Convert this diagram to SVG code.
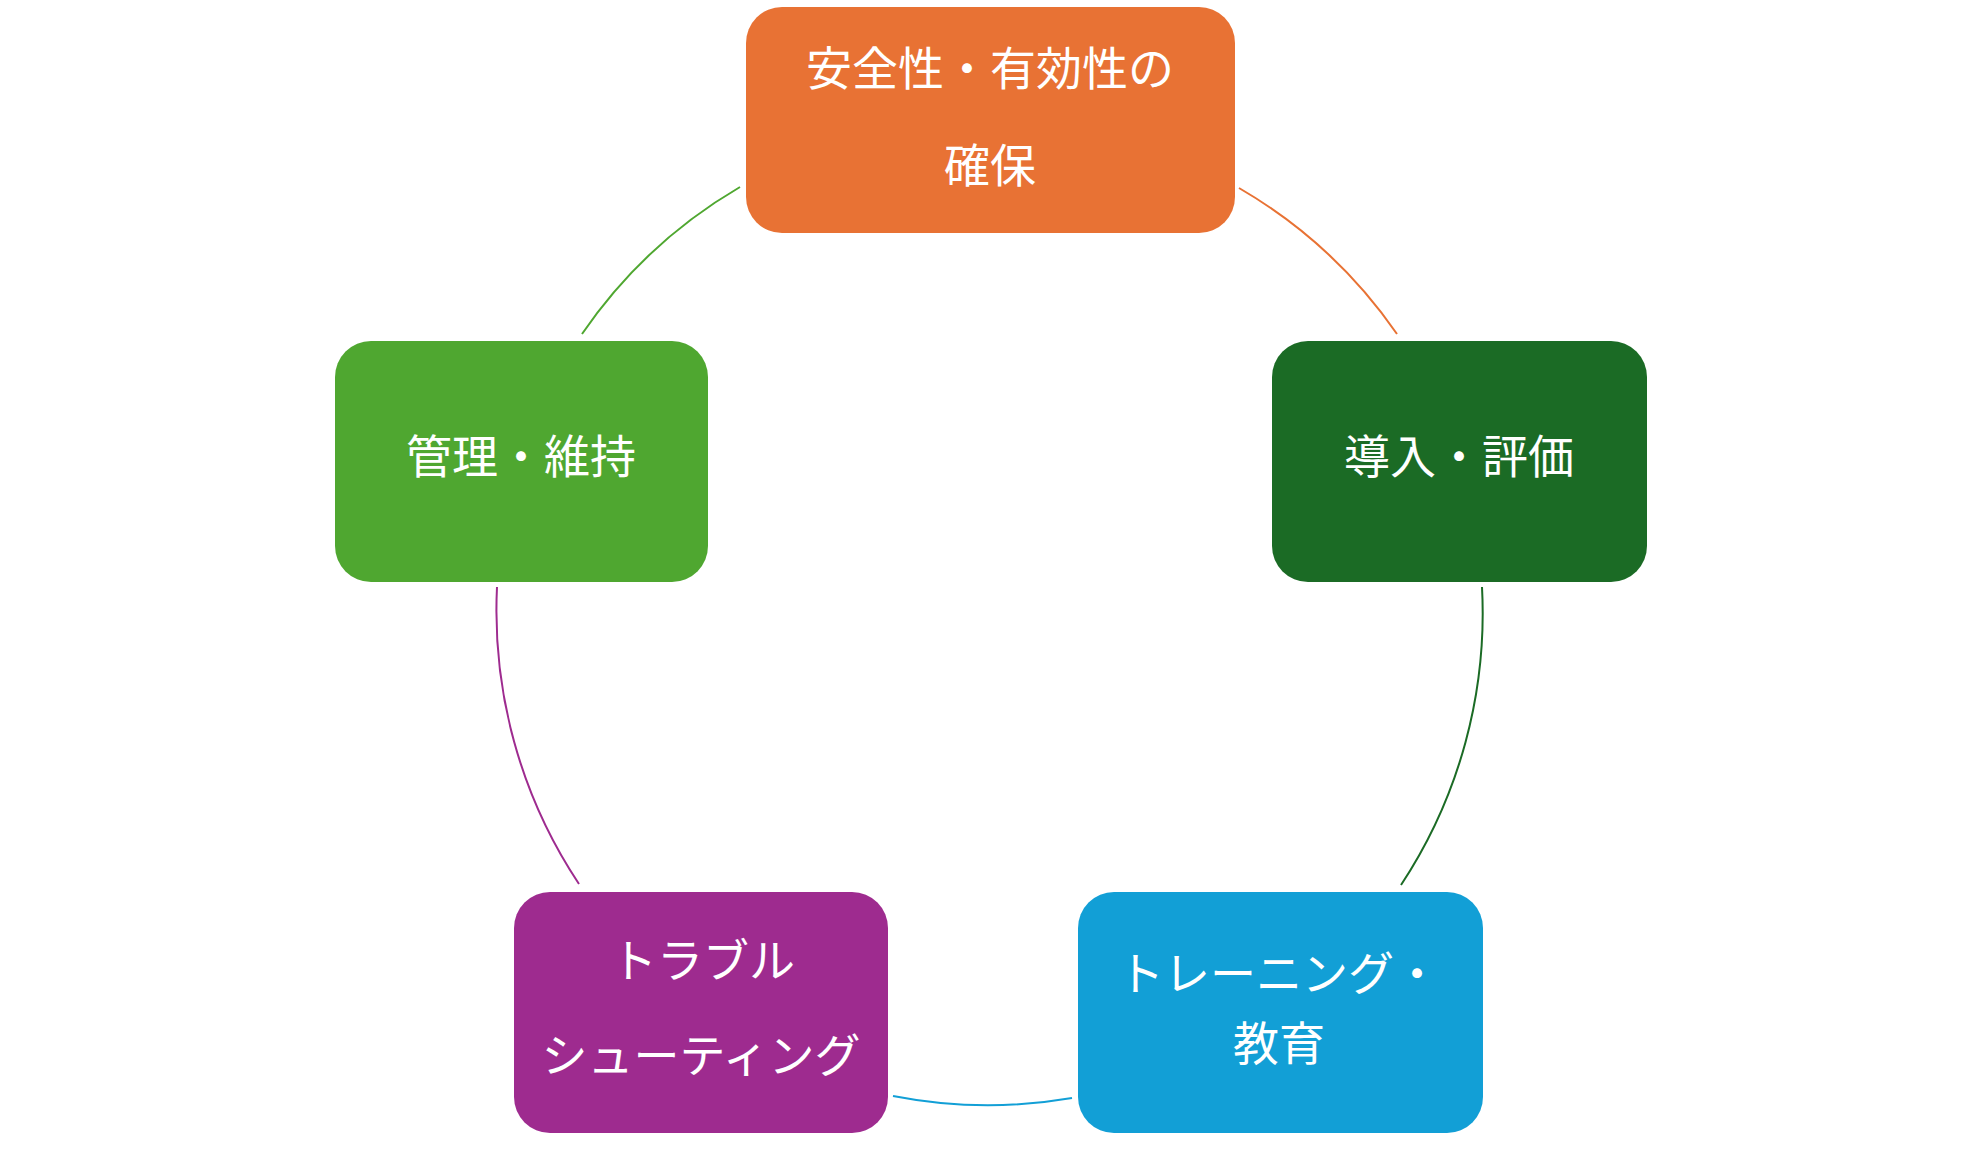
<svg xmlns="http://www.w3.org/2000/svg" width="1980" height="1155" viewBox="0 0 1980 1155">
<style>
.box{stroke:none}
.t{font-family:"Noto Sans CJK JP","Noto Sans",sans-serif;font-size:46px;fill:#ffffff;text-anchor:middle;dominant-baseline:central}
.c{fill:none;stroke-width:2}
</style>
<rect width="1980" height="1155" fill="#ffffff"/>
<g id="connectors">
<path class="c" stroke="#E87234" d="M1239,188 A493,493 0 0 1 1397,334"/>
<path class="c" stroke="#1B6B25" d="M1482,587 A493,493 0 0 1 1401,885"/>
<path class="c" stroke="#129FD6" d="M1072,1098 A493,493 0 0 1 893,1096"/>
<path class="c" stroke="#9E2B8F" d="M579,884 A493,493 0 0 1 497,587"/>
<path class="c" stroke="#4FA730" d="M582,334 A493,493 0 0 1 740,187"/>
</g>
<g id="node-safety">
<rect class="box" x="746" y="7" width="489" height="226" rx="36" fill="#E87234"/>
<text class="t" x="990" y="65">安全性・有効性の</text>
<text class="t" x="990" y="162">確保</text>
</g>
<g id="node-intro">
<rect class="box" x="1272" y="341" width="375" height="241" rx="36" fill="#1B6B25"/>
<text class="t" x="1459" y="453">導入・評価</text>
</g>
<g id="node-training">
<rect class="box" x="1078" y="892" width="405" height="241" rx="36" fill="#129FD6"/>
<text class="t" x="1279" y="970">トレーニング・</text>
<text class="t" x="1279" y="1040">教育</text>
</g>
<g id="node-trouble">
<rect class="box" x="514" y="892" width="374" height="241" rx="36" fill="#9E2B8F"/>
<text class="t" x="703" y="957">トラブル</text>
<text class="t" x="701" y="1052">シューティング</text>
</g>
<g id="node-manage">
<rect class="box" x="335" y="341" width="373" height="241" rx="36" fill="#4FA730"/>
<text class="t" x="521" y="453">管理・維持</text>
</g>
</svg>
